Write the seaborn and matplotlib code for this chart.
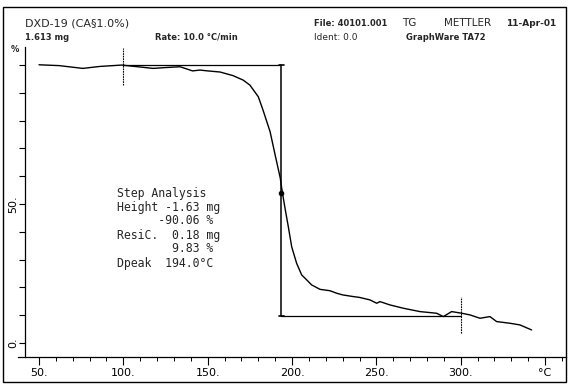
import numpy as np
import pandas as pd
import matplotlib
matplotlib.use("Agg")
import matplotlib.pyplot as plt
import seaborn as sns
from matplotlib.patches import Rectangle

# ---- data ----
temp_c = [50, 62, 76, 86, 99, 110, 117.6, 125, 133.6, 141, 145.4, 150, 155.5, 157.3,
          165, 171, 175, 180, 182.8, 187, 190, 193, 193.9, 195.8, 197.8, 199.8,
          202.7, 205.7, 208.7, 211.6, 216.6, 222.5, 226.5, 230, 236.3, 240,
          246.2, 250.2, 252.1, 258, 266, 275.8, 285.7, 289.7, 294.6, 300.6,
          305.5, 311.4, 317.3, 321.3, 329.2, 335.1, 342]
mass_pct = [100.1, 99.8, 98.8, 99.5, 100.0, 99.3, 98.8, 99.1, 99.4, 97.9, 98.2, 97.9, 97.6, 97.5,
            96.2, 94.6, 92.8, 88.6, 83.8, 76.0, 67.6, 59.4, 55.6, 48.6, 41.8, 34.6,
            28.7, 24.5, 22.7, 20.9, 19.3, 18.8, 17.9, 17.3, 16.7, 16.4,
            15.5, 14.3, 14.9, 13.7, 12.5, 11.3, 10.7, 9.5, 11.3, 10.7,
            10.1, 8.9, 9.5, 7.7, 7.1, 6.5, 4.7]

step_left = 99.5
step_mid = 193.5
step_right = 300.0
level_top = 99.89
level_bottom = 9.83
dpeak_point = (193.5, 54.0)

x_ticks = [50, 100, 150, 200, 250, 300, 350]
x_ticklabels = ["50.", "100.", "150.", "200.", "250.", "300.", "°C"]
y_ticks = list(range(0, 101, 10))
y_ticklabels = ["0." if v == 0 else ("50." if v == 50 else "") for v in y_ticks]

analysis_lines = [
    "Step Analysis",
    "Height -1.63 mg",
    "      -90.06 %",
    "ResiC.  0.18 mg",
    "        9.83 %",
    "Dpeak  194.0°C",
]

# ---- drawing ----
sns.set_style("ticks")
plt.rcParams["font.family"] = ["DejaVu Sans"]

W, H = 568, 384
fig = plt.figure(figsize=(W / 100, H / 100), dpi=100)
ax = fig.add_axes([25 / W, 1 - 357 / H, (566 - 25) / W, (357 - 47) / H])

df = pd.DataFrame({"T": temp_c, "m": mass_pct})
sns.lineplot(data=df, x="T", y="m", ax=ax, color="black", lw=1.0, sort=False)

ax.set_xlim(41.7, 362.4)
ax.set_ylim(-5.04, 106.5)

# step analysis construction
ax.plot([step_left, step_mid], [level_top, level_top], color="black", lw=0.9)
ax.plot([step_mid, step_mid], [level_top, level_bottom], color="black", lw=1.1)
ax.plot([step_mid, step_right], [level_bottom, level_bottom], color="black", lw=0.9)
ax.plot([step_left, step_left], [92.8, 106.2], color="black", lw=0.8, ls=(0, (1.5, 0.8)), clip_on=False)
ax.plot([step_right, step_right], [3.6, 16.5], color="black", lw=0.8, ls=(0, (1.5, 0.8)))
ax.plot([step_mid - 1.5, step_mid + 1.5], [level_top, level_top], color="black", lw=1.2)
ax.plot([step_mid - 1.5, step_mid + 1.5], [level_bottom, level_bottom], color="black", lw=1.2)
ax.plot([dpeak_point[0]], [dpeak_point[1]], "o", color="black", ms=3)

# axes styling
for s in ["top", "right"]:
    ax.spines[s].set_visible(False)
for s in ["left", "bottom"]:
    ax.spines[s].set_color("black")
    ax.spines[s].set_linewidth(0.9)
ax.spines["bottom"].set_bounds(37.5, 362.4)

ax.set_xticks(x_ticks)
ax.set_xticklabels(x_ticklabels, fontsize=8)
ax.set_xticks(np.arange(50, 361, 10), minor=True)
ax.set_yticks(y_ticks)
ax.set_yticklabels(y_ticklabels, fontsize=8, rotation=90, va="center")
ax.tick_params(axis="x", which="major", direction="out", length=6, width=0.8, pad=2, colors="black")
ax.tick_params(axis="x", which="minor", direction="out", length=3, width=0.7, colors="black")
ax.tick_params(axis="y", which="major", direction="out", length=4, width=0.8, pad=1, colors="black")
ax.set_xlabel("")
ax.set_ylabel("")

# analysis text
for i, line in enumerate(analysis_lines):
    fig.text(117 / W, 1 - (193 + i * 14) / H, line, fontsize=8.3,
             family=["DejaVu Sans Mono"], va="center", ha="left")

# header texts
def htext(x, y, s, size=6.5, weight="bold"):
    fig.text(x / W, 1 - y / H, s, fontsize=size, va="center", ha="left", weight=weight)

htext(25, 23, "DXD-19 (CA§1.0%)", 8, "normal")
htext(25, 37, "1.613 mg", 6)
htext(155, 37, "Rate: 10.0 °C/min", 6)
htext(314, 23, "File: 40101.001", 6)
htext(402, 23, "TG", 7.5, "normal")
htext(444, 23, "METTLER", 7.5, "normal")
htext(506, 23, "11-Apr-01", 6.5)
htext(314, 37, "Ident: 0.0", 6.5, "normal")
htext(406, 37, "GraphWare TA72", 6)
htext(11, 49, "%", 6)

# outer frame
fig.patches.append(Rectangle((3 / W, 1 - 382 / H), (566 - 3) / W, (382 - 7) / H,
                             transform=fig.transFigure, fill=False, edgecolor="black", lw=1.0))

fig.savefig("out.png", dpi=100)
